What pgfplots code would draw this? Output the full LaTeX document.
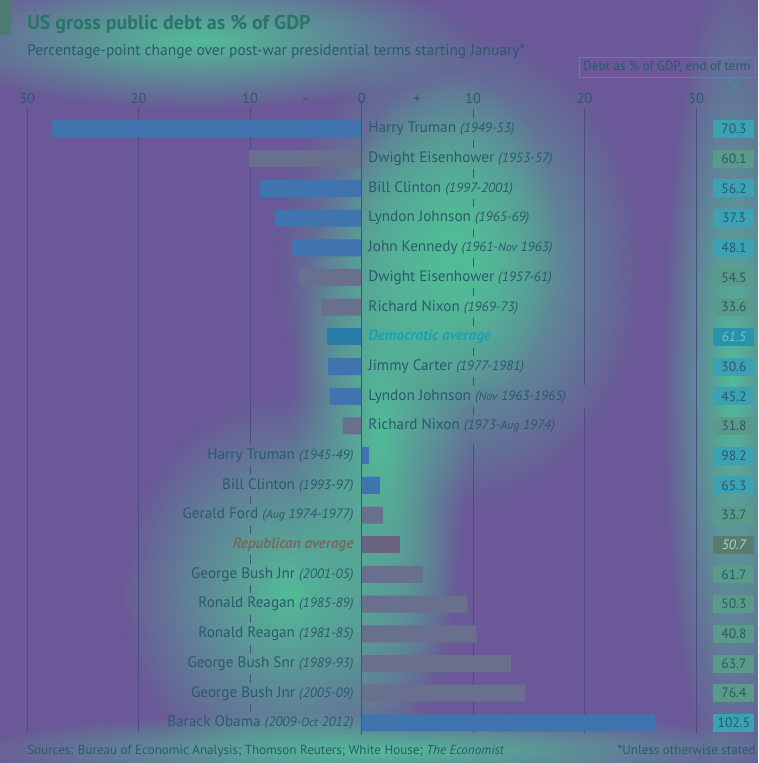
\documentclass[border=0pt]{standalone}
\usepackage{fontspec}
\setmainfont{PT Sans}
\usepackage{pgfplots}
\pgfplotsset{compat=1.18}
\usetikzlibrary{fadings}
\definecolor{bgp}{HTML}{6A5898}
\definecolor{glowc}{HTML}{52BC96}
\definecolor{txt}{HTML}{2B5A6C}
\definecolor{titlec}{HTML}{2A7468}
\definecolor{demc}{HTML}{3F74AE}
\definecolor{repc}{HTML}{68708E}
\definecolor{demavgc}{HTML}{2A7CA8}
\definecolor{repavgc}{HTML}{6A6480}
\definecolor{demtxt}{HTML}{1AA2B2}
\definecolor{reptxt}{HTML}{766A62}
\definecolor{dembox}{HTML}{3AA2B2}
\definecolor{repbox}{HTML}{5A9A88}
\definecolor{demavgbox}{HTML}{2A92AA}
\definecolor{repavgbox}{HTML}{5A7C70}
\definecolor{gridc}{HTML}{4A4C82}
\definecolor{tagc}{HTML}{4F7A72}
\definecolor{demavgtxt}{HTML}{70C4D2}
\definecolor{repavgtxt}{HTML}{A8D8C4}
\tikzfading[name=glow, inner color=transparent!0, outer color=transparent!100]
\newcommand{\yr}[1]{{\itshape\fontsize{10.2}{12}\selectfont #1}}
\newcommand{\sm}[1]{{\fontsize{9}{10}\selectfont #1}}
\begin{document}
\begin{tikzpicture}[x=0.75pt,y=0.75pt]
\fill[bgp] (0,0) rectangle (758,763);
\begin{scope}
\clip (0,0) rectangle (758,763);
\fill[glowc, path fading=glow] (200,723) ellipse (280 and 70);
\fill[glowc, path fading=glow] (460,495) ellipse (185 and 240);
\fill[glowc, path fading=glow] (450,520) ellipse (110 and 170);
\fill[glowc, path fading=glow] (290,170) ellipse (170 and 200);
\fill[glowc, path fading=glow] (380,330) ellipse (90 and 300);
\fill[glowc, path fading=glow] (732,380) ellipse (70 and 420);
\fill[glowc, path fading=glow] (380,12) ellipse (420 and 40);
\end{scope}
\fill[tagc] (0,728) rectangle (11,763);
\node[anchor=base west, text=titlec, font=\bfseries\fontsize{15}{18}\selectfont, inner sep=0] at (27,733) {US gross public debt as \% of GDP};
\node[anchor=base west, text=txt, font=\fontsize{11.6}{13}\selectfont, inner sep=0] at (27,707) {Percentage-point change over post-war presidential terms starting January*};
\node[draw=demtxt, line width=0.6pt, text=txt, font=\fontsize{9.8}{11}\selectfont, inner sep=0, minimum width=132pt, minimum height=15pt] at (667,696) {Debt as \% of GDP, end of term};
\draw[demtxt, line width=0.6pt] (725,686.3) -- (733,675) -- (741,686.3);
\node[anchor=base west, text=txt, font=\fontsize{9.8}{11}\selectfont, inner sep=0] at (27,8) {Sources: Bureau of Economic Analysis; Thomson Reuters; White House; \textit{The Economist}};
\node[anchor=base east, text=txt, font=\fontsize{9.8}{11}\selectfont, inner sep=0] at (756,8) {*Unless otherwise stated};
\begin{axis}[at={(20.25pt,491.25pt)}, anchor=north west, scale only axis,
  width=501.75pt, height=468.75pt,
  xmin=-30, xmax=30, ymin=-0.707, ymax=20.34, y dir=reverse,
  axis line style={draw=none}, major tick length=0pt,
  ytick=\empty,
  xtick={-30,-20,-10,-5,0,5,10,20,30},
  xticklabels={30,20,10,--,0,+,10,20,30},
  xticklabel pos=upper,
  xticklabel style={text=txt, font=\fontsize{10.8}{12}\selectfont},
  clip=false]
% grid lines
\draw[gridc, line width=0.5pt] (axis cs:-30,-0.707) -- (axis cs:-30,20.34);
\draw[gridc, line width=0.5pt] (axis cs:-20,-0.707) -- (axis cs:-20,20.34);
\draw[gridc, line width=0.5pt] (axis cs:-10,-0.707) -- (axis cs:-10,10.62);
\draw[gridc, line width=0.5pt] (axis cs:30,-0.707) -- (axis cs:30,20.34);
\draw[gridc, line width=0.5pt] (axis cs:20,-0.707) -- (axis cs:20,8.62);
\draw[gridc, line width=0.5pt] (axis cs:20,9.38) -- (axis cs:20,20.34);
\draw[gridc, line width=0.5pt] (axis cs:10,10.62) -- (axis cs:10,20.34);
\draw[gridc, line width=0.5pt] (axis cs:10,-0.66) -- (axis cs:10,-0.36)
  (axis cs:10,0.36) -- (axis cs:10,0.64) (axis cs:10,1.36) -- (axis cs:10,1.64)
  (axis cs:10,2.36) -- (axis cs:10,2.64) (axis cs:10,3.36) -- (axis cs:10,3.64)
  (axis cs:10,4.36) -- (axis cs:10,4.64) (axis cs:10,5.36) -- (axis cs:10,5.64)
  (axis cs:10,6.36) -- (axis cs:10,6.64) (axis cs:10,7.36) -- (axis cs:10,7.64)
  (axis cs:10,8.36) -- (axis cs:10,8.64) (axis cs:10,9.36) -- (axis cs:10,9.64);
\draw[gridc, line width=0.5pt]
  (axis cs:-10,11.36) -- (axis cs:-10,11.64) (axis cs:-10,12.36) -- (axis cs:-10,12.64)
  (axis cs:-10,13.36) -- (axis cs:-10,13.64) (axis cs:-10,14.36) -- (axis cs:-10,14.64)
  (axis cs:-10,15.36) -- (axis cs:-10,15.64) (axis cs:-10,16.36) -- (axis cs:-10,16.64)
  (axis cs:-10,17.36) -- (axis cs:-10,17.64) (axis cs:-10,18.36) -- (axis cs:-10,18.64)
  (axis cs:-10,19.36) -- (axis cs:-10,19.64);
% bars
\addplot[xbar, bar width=12.75pt, fill=demc, draw=none] coordinates {
(-27.8,0) (-9.1,2) (-7.8,3) (-6.2,4) (-3.0,8) (-2.85,9) (0.65,11) (1.65,12) (26.3,20)};
\addplot[xbar, bar width=12.75pt, fill=repc, draw=none] coordinates {
(-10.1,1) (-5.6,5) (-3.6,6) (-1.7,10) (1.95,13) (5.5,15) (9.5,16) (10.3,17) (13.4,18) (14.7,19)};
\addplot[xbar, bar width=12.75pt, fill=demavgc, draw=none] coordinates {(-3.1,7)};
\addplot[xbar, bar width=12.75pt, fill=repavgc, draw=none] coordinates {(3.45,14)};
\draw[gridc, line width=0.7pt] (axis cs:0,-0.98) -- (axis cs:0,20.4);
% labels
\node[anchor=west, text=txt, font=\fontsize{11.4}{13}\selectfont, inner sep=0] at (axis cs:0.6,0) {Harry Truman \yr{(1949-53)}};
\node[anchor=west, text=txt, font=\fontsize{11.4}{13}\selectfont, inner sep=0] at (axis cs:0.6,1) {Dwight Eisenhower \yr{(1953-57)}};
\node[anchor=west, text=txt, font=\fontsize{11.4}{13}\selectfont, inner sep=0] at (axis cs:0.6,2) {Bill Clinton \yr{(1997-2001)}};
\node[anchor=west, text=txt, font=\fontsize{11.4}{13}\selectfont, inner sep=0] at (axis cs:0.6,3) {Lyndon Johnson \yr{(1965-69)}};
\node[anchor=west, text=txt, font=\fontsize{11.4}{13}\selectfont, inner sep=0] at (axis cs:0.6,4) {John Kennedy \yr{(1961-\sm{Nov} 1963)}};
\node[anchor=west, text=txt, font=\fontsize{11.4}{13}\selectfont, inner sep=0] at (axis cs:0.6,5) {Dwight Eisenhower \yr{(1957-61)}};
\node[anchor=west, text=txt, font=\fontsize{11.4}{13}\selectfont, inner sep=0] at (axis cs:0.6,6) {Richard Nixon \yr{(1969-73)}};
\node[anchor=west, text=demtxt, font=\bfseries\itshape\fontsize{11.4}{13}\selectfont, inner sep=0] at (axis cs:0.6,7) {Democratic average};
\node[anchor=west, text=txt, font=\fontsize{11.4}{13}\selectfont, inner sep=0] at (axis cs:0.6,8) {Jimmy Carter \yr{(1977-1981)}};
\node[anchor=west, text=txt, font=\fontsize{11.4}{13}\selectfont, inner sep=0] at (axis cs:0.6,9) {Lyndon Johnson \yr{(\sm{Nov} 1963-1965)}};
\node[anchor=west, text=txt, font=\fontsize{11.4}{13}\selectfont, inner sep=0] at (axis cs:0.6,10) {Richard Nixon \yr{(1973-\sm{Aug} 1974)}};
\node[anchor=east, text=txt, font=\fontsize{11.4}{13}\selectfont, inner sep=0] at (axis cs:-0.7,11) {Harry Truman \yr{(1945-49)}};
\node[anchor=east, text=txt, font=\fontsize{11.4}{13}\selectfont, inner sep=0] at (axis cs:-0.7,12) {Bill Clinton \yr{(1993-97)}};
\node[anchor=east, text=txt, font=\fontsize{11.4}{13}\selectfont, inner sep=0] at (axis cs:-0.7,13) {Gerald Ford \yr{(\sm{Aug} 1974-1977)}};
\node[anchor=east, text=reptxt, font=\bfseries\itshape\fontsize{11.4}{13}\selectfont, inner sep=0] at (axis cs:-0.7,14) {Republican average};
\node[anchor=east, text=txt, font=\fontsize{11.4}{13}\selectfont, inner sep=0] at (axis cs:-0.7,15) {George Bush Jnr \yr{(2001-05)}};
\node[anchor=east, text=txt, font=\fontsize{11.4}{13}\selectfont, inner sep=0] at (axis cs:-0.7,16) {Ronald Reagan \yr{(1985-89)}};
\node[anchor=east, text=txt, font=\fontsize{11.4}{13}\selectfont, inner sep=0] at (axis cs:-0.7,17) {Ronald Reagan \yr{(1981-85)}};
\node[anchor=east, text=txt, font=\fontsize{11.4}{13}\selectfont, inner sep=0] at (axis cs:-0.7,18) {George Bush Snr \yr{(1989-93)}};
\node[anchor=east, text=txt, font=\fontsize{11.4}{13}\selectfont, inner sep=0] at (axis cs:-0.7,19) {George Bush Jnr \yr{(2005-09)}};
\node[anchor=east, text=txt, font=\fontsize{11.4}{13}\selectfont, inner sep=0] at (axis cs:-0.7,20) {Barack Obama \yr{(2009-\sm{Oct} 2012)}};
% value boxes
\node[fill=dembox, minimum width=30.75pt, minimum height=13.5pt, inner sep=0, text=txt, font=\fontsize{10.2}{11}\selectfont] at (axis cs:33.4,0) {70.3};
\node[fill=repbox, minimum width=30.75pt, minimum height=13.5pt, inner sep=0, text=txt, font=\fontsize{10.2}{11}\selectfont] at (axis cs:33.4,1) {60.1};
\node[fill=dembox, minimum width=30.75pt, minimum height=13.5pt, inner sep=0, text=txt, font=\fontsize{10.2}{11}\selectfont] at (axis cs:33.4,2) {56.2};
\node[fill=dembox, minimum width=30.75pt, minimum height=13.5pt, inner sep=0, text=txt, font=\fontsize{10.2}{11}\selectfont] at (axis cs:33.4,3) {37.3};
\node[fill=dembox, minimum width=30.75pt, minimum height=13.5pt, inner sep=0, text=txt, font=\fontsize{10.2}{11}\selectfont] at (axis cs:33.4,4) {48.1};
\node[fill=repbox, minimum width=30.75pt, minimum height=13.5pt, inner sep=0, text=txt, font=\fontsize{10.2}{11}\selectfont] at (axis cs:33.4,5) {54.5};
\node[fill=repbox, minimum width=30.75pt, minimum height=13.5pt, inner sep=0, text=txt, font=\fontsize{10.2}{11}\selectfont] at (axis cs:33.4,6) {33.6};
\node[fill=demavgbox, minimum width=30.75pt, minimum height=13.5pt, inner sep=0, text=demavgtxt, font=\itshape\fontsize{10.2}{11}\selectfont] at (axis cs:33.4,7) {61.5};
\node[fill=dembox, minimum width=30.75pt, minimum height=13.5pt, inner sep=0, text=txt, font=\fontsize{10.2}{11}\selectfont] at (axis cs:33.4,8) {30.6};
\node[fill=dembox, minimum width=30.75pt, minimum height=13.5pt, inner sep=0, text=txt, font=\fontsize{10.2}{11}\selectfont] at (axis cs:33.4,9) {45.2};
\node[fill=repbox, minimum width=30.75pt, minimum height=13.5pt, inner sep=0, text=txt, font=\fontsize{10.2}{11}\selectfont] at (axis cs:33.4,10) {31.8};
\node[fill=dembox, minimum width=30.75pt, minimum height=13.5pt, inner sep=0, text=txt, font=\fontsize{10.2}{11}\selectfont] at (axis cs:33.4,11) {98.2};
\node[fill=dembox, minimum width=30.75pt, minimum height=13.5pt, inner sep=0, text=txt, font=\fontsize{10.2}{11}\selectfont] at (axis cs:33.4,12) {65.3};
\node[fill=repbox, minimum width=30.75pt, minimum height=13.5pt, inner sep=0, text=txt, font=\fontsize{10.2}{11}\selectfont] at (axis cs:33.4,13) {33.7};
\node[fill=repavgbox, minimum width=30.75pt, minimum height=13.5pt, inner sep=0, text=repavgtxt, font=\itshape\fontsize{10.2}{11}\selectfont] at (axis cs:33.4,14) {50.7};
\node[fill=repbox, minimum width=30.75pt, minimum height=13.5pt, inner sep=0, text=txt, font=\fontsize{10.2}{11}\selectfont] at (axis cs:33.4,15) {61.7};
\node[fill=repbox, minimum width=30.75pt, minimum height=13.5pt, inner sep=0, text=txt, font=\fontsize{10.2}{11}\selectfont] at (axis cs:33.4,16) {50.3};
\node[fill=repbox, minimum width=30.75pt, minimum height=13.5pt, inner sep=0, text=txt, font=\fontsize{10.2}{11}\selectfont] at (axis cs:33.4,17) {40.8};
\node[fill=repbox, minimum width=30.75pt, minimum height=13.5pt, inner sep=0, text=txt, font=\fontsize{10.2}{11}\selectfont] at (axis cs:33.4,18) {63.7};
\node[fill=repbox, minimum width=30.75pt, minimum height=13.5pt, inner sep=0, text=txt, font=\fontsize{10.2}{11}\selectfont] at (axis cs:33.4,19) {76.4};
\node[fill=dembox, minimum width=30.75pt, minimum height=13.5pt, inner sep=0, text=txt, font=\fontsize{10.2}{11}\selectfont] at (axis cs:33.4,20) {102.5};
\end{axis}
\end{tikzpicture}
\end{document}
